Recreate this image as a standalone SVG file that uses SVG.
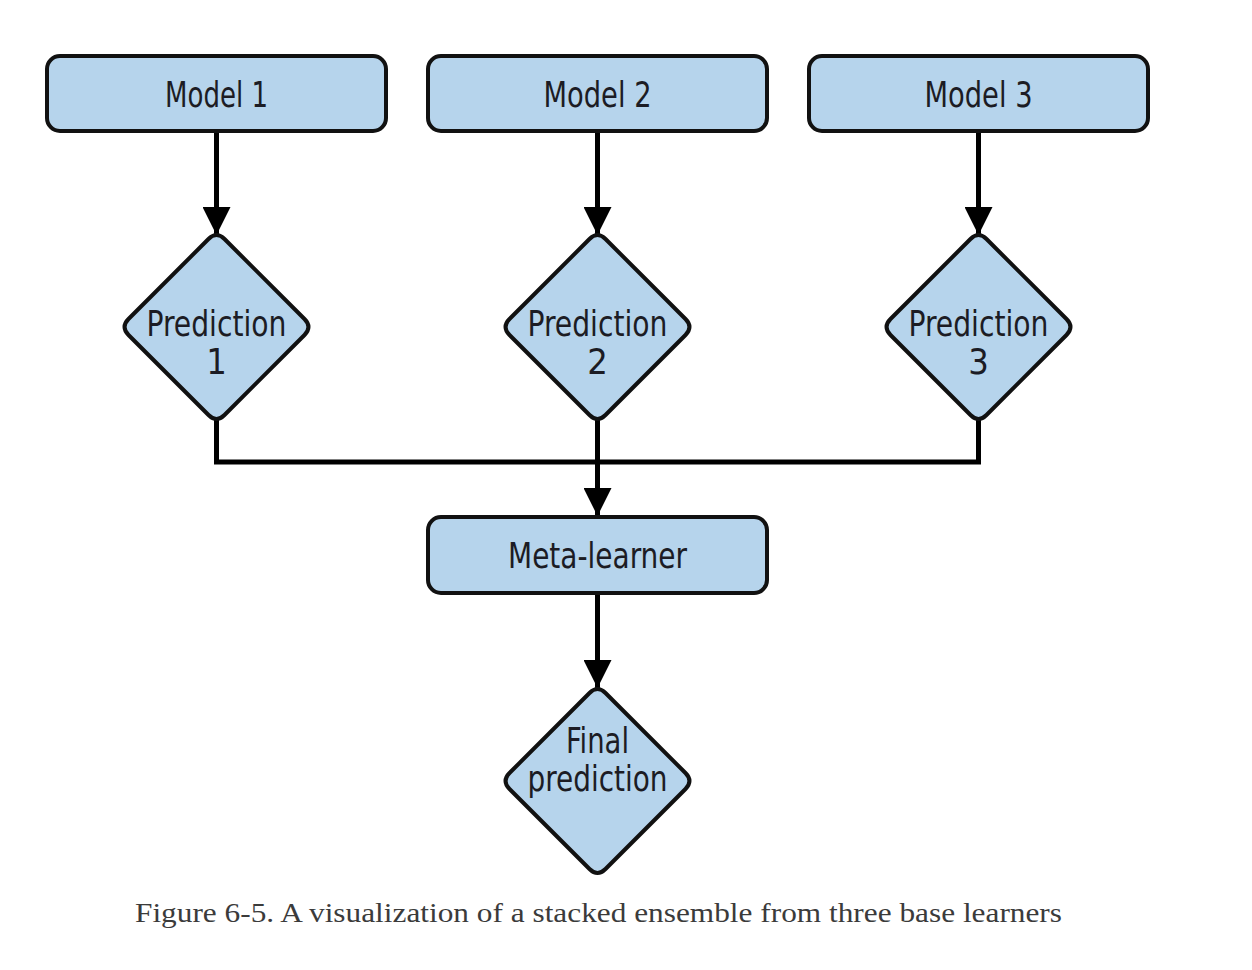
<svg xmlns="http://www.w3.org/2000/svg" width="1252" height="970" viewBox="0 0 1252 970">
<style>
.box{fill:#b6d4ec;stroke:#111;stroke-width:4}
.lbl{font-family:"DejaVu Sans Condensed","Liberation Sans",sans-serif;font-size:36px;fill:#1c1c24;text-anchor:middle}
.con{fill:none;stroke:#000;stroke-width:5}
.cap{font-family:"Liberation Serif","DejaVu Serif",serif;font-size:28px;fill:#3b3b3b}
</style>
<defs>
<marker id="ah" viewBox="0 0 10 10" refX="10" refY="5" markerWidth="6.4" markerHeight="5.6" markerUnits="strokeWidth" orient="auto">
<path d="M0,0 L10,5 L0,10 Z" fill="#000"/>
</marker>
<path id="dia" d="M-8,-88 Q0,-96 8,-88 L88,-8 Q96,0 88,8 L8,88 Q0,96 -8,88 L-88,8 Q-96,0 -88,-8 Z"/>
</defs>
<rect width="1252" height="970" fill="#fff"/>
<g id="connectors">
<path class="con" d="M216.5,131 V235" marker-end="url(#ah)"/>
<path class="con" d="M597.5,131 V235" marker-end="url(#ah)"/>
<path class="con" d="M978.5,131 V235" marker-end="url(#ah)"/>
<path class="con" d="M216.5,419 V462 H978.5 V419"/>
<path class="con" d="M597.5,419 V516" marker-end="url(#ah)"/>
<path class="con" d="M597.5,593 V688" marker-end="url(#ah)"/>
</g>
<g id="model1"><rect class="box" x="47" y="56" width="339" height="75" rx="13"/><text class="lbl" x="216.5" y="107" textLength="103" lengthAdjust="spacingAndGlyphs">Model 1</text></g>
<g id="model2"><rect class="box" x="428" y="56" width="339" height="75" rx="13"/><text class="lbl" x="597.5" y="107" textLength="108" lengthAdjust="spacingAndGlyphs">Model 2</text></g>
<g id="model3"><rect class="box" x="809" y="56" width="339" height="75" rx="13"/><text class="lbl" x="978.5" y="107" textLength="108" lengthAdjust="spacingAndGlyphs">Model 3</text></g>
<g id="pred1"><use href="#dia" class="box" x="216.5" y="327"/><text class="lbl" x="216.5" y="336" textLength="140" lengthAdjust="spacingAndGlyphs">Prediction</text><text class="lbl" x="216.5" y="374">1</text></g>
<g id="pred2"><use href="#dia" class="box" x="597.5" y="327"/><text class="lbl" x="597.5" y="336" textLength="140" lengthAdjust="spacingAndGlyphs">Prediction</text><text class="lbl" x="597.5" y="374">2</text></g>
<g id="pred3"><use href="#dia" class="box" x="978.5" y="327"/><text class="lbl" x="978.5" y="336" textLength="140" lengthAdjust="spacingAndGlyphs">Prediction</text><text class="lbl" x="978.5" y="374">3</text></g>
<g id="meta"><rect class="box" x="428" y="517" width="339" height="76" rx="13"/><text class="lbl" x="597.5" y="568" textLength="179" lengthAdjust="spacingAndGlyphs">Meta-learner</text></g>
<g id="final"><use href="#dia" class="box" x="597.5" y="781"/><text class="lbl" x="597.5" y="753" textLength="63" lengthAdjust="spacingAndGlyphs">Final</text><text class="lbl" x="597.5" y="791" textLength="140" lengthAdjust="spacingAndGlyphs">prediction</text></g>
<text class="cap" x="135" y="922" textLength="927" lengthAdjust="spacingAndGlyphs">Figure 6-5. A visualization of a stacked ensemble from three base learners</text>
</svg>
